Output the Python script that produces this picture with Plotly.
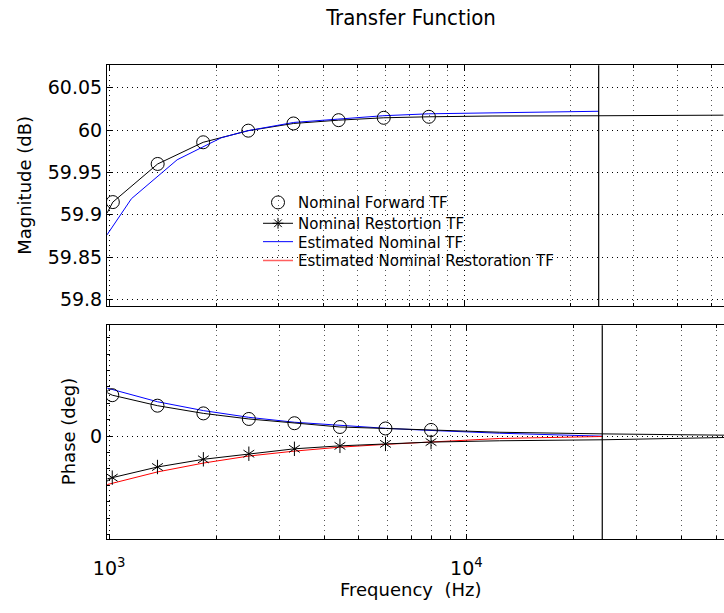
import plotly.graph_objects as go
import numpy as np

# ---------------- data ----------------
nyquist = 24000

# Magnitude subplot
mark_f = [1020, 1365, 1835, 2460, 3300, 4425, 5935, 7960]
mag_nom_marks = [59.915, 59.960, 59.9856, 59.9993, 60.0078, 60.0117, 60.0145, 60.0157]
mag_nom_f = [982, 1020, 1365, 1835, 2460, 3300, 4425, 5935, 7960, 12000, 24000, 54000]
mag_nom = [59.902, 59.915, 59.960, 59.9856, 59.9993, 60.0078, 60.0117, 60.0145, 60.0157,
           60.0166, 60.0169, 60.0176]
mag_est_f = [982, 1151, 1549, 2066, 2456, 3306, 4400, 5898, 7945, 12590, 24000]
mag_est = [59.8763, 59.919, 59.9649, 59.991, 59.9993, 60.009, 60.0129, 60.0169, 60.0192,
           60.0207, 60.0222]

# Phase subplot
ph_fwd_marks = [0.25, 0.186, 0.139, 0.105, 0.079, 0.056, 0.047, 0.038]
ph_res_marks = [-0.253, -0.188, -0.141, -0.107, -0.077, -0.059, -0.047, -0.036]
ph_line_f = [988, 1020, 1365, 1835, 2460, 3300, 4425, 5935, 7960, 12400, 24000, 53000]
ph_fwd_line = [0.265, 0.25, 0.186, 0.139, 0.105, 0.079, 0.056, 0.047, 0.038, 0.024, 0.014, 0.006]
ph_res_line = [-0.26, -0.253, -0.188, -0.141, -0.107, -0.077, -0.059, -0.047, -0.036, -0.028,
               -0.022, -0.008]
ph_est_f = [988, 1365, 1835, 2460, 3300, 4425, 5935, 7960, 12400, 24000]
ph_est_fwd = [0.293, 0.21, 0.156, 0.115, 0.085, 0.065, 0.048, 0.035, 0.018, 0.0]
ph_est_res = [-0.295, -0.218, -0.164, -0.121, -0.091, -0.067, -0.05, -0.036, -0.014, -0.002]

mag_ticks = [59.8, 59.85, 59.9, 59.95, 60.0, 60.05]
mag_ticktext = ["59.8", "59.85", "59.9", "59.95", "60", "60.05"]
ph_ticks = [0]
ph_ticktext = ["0"]
x_major = [1000, 10000]
x_major_text = ["10<sup>3</sup>", "10<sup>4</sup>"]
x_minor = [2000, 3000, 4000, 5000, 6000, 7000, 8000, 9000, 20000, 30000, 40000, 50000]

legend_names = ["Nominal Forward TF", "Nominal Restortion TF",
                "Estimated Nominal TF", "Estimated Nominal Restoration TF"]

# ---------------- figure ----------------
FONT = "DejaVu Sans"
TITLE_FONT = "DejaVu Sans Condensed, DejaVu Sans"
W, H = 724, 613
L, R = 107, 0
pw = W - L - R


def px_x(p):
    return (p - L) / pw


def px_y(p):
    return (H - p) / H


fig = go.Figure()
blk = dict(color="black", width=1)

# top subplot
fig.add_trace(go.Scatter(x=mag_nom_f, y=mag_nom, mode="lines", line=blk,
                         showlegend=False, xaxis="x", yaxis="y"))
fig.add_trace(go.Scatter(x=mag_est_f, y=mag_est, mode="lines",
                         line=dict(color="#0000ff", width=1),
                         showlegend=False, xaxis="x", yaxis="y"))
fig.add_trace(go.Scatter(x=mark_f, y=mag_nom_marks, mode="markers", name=legend_names[0],
                         marker=dict(symbol="circle-open", size=13, color="black",
                                     line=dict(width=1)),
                         showlegend=True, legend="legend", xaxis="x", yaxis="y"))

# bottom subplot
fig.add_trace(go.Scatter(x=ph_est_f, y=ph_est_fwd, mode="lines",
                         line=dict(color="#0000ff", width=1),
                         showlegend=False, xaxis="x2", yaxis="y2"))
fig.add_trace(go.Scatter(x=ph_est_f, y=ph_est_res, mode="lines",
                         line=dict(color="#ff0000", width=1),
                         showlegend=False, xaxis="x2", yaxis="y2"))
fig.add_trace(go.Scatter(x=ph_line_f, y=ph_fwd_line, mode="lines", line=blk,
                         showlegend=False, xaxis="x2", yaxis="y2"))
fig.add_trace(go.Scatter(x=ph_line_f, y=ph_res_line, mode="lines", line=blk,
                         showlegend=False, xaxis="x2", yaxis="y2"))
fig.add_trace(go.Scatter(x=mark_f, y=ph_fwd_marks, mode="markers",
                         marker=dict(symbol="circle-open", size=13, color="black",
                                     line=dict(width=1)),
                         showlegend=False, xaxis="x2", yaxis="y2"))
for sym in ["y-up-open", "y-down-open"]:
    fig.add_trace(go.Scatter(x=mark_f, y=ph_res_marks, mode="markers",
                             marker=dict(symbol=sym, size=9, color="black",
                                         line=dict(width=1, color="black")),
                             showlegend=False, xaxis="x2", yaxis="y2"))

# legend entries (each in its own legend so rows can be placed exactly)
fig.add_trace(go.Scatter(x=[None], y=[None], mode="lines+markers", name=legend_names[1],
                         line=blk, marker=dict(symbol="asterisk-open", size=9, color="black",
                                               line=dict(width=1, color="black")),
                         legend="legend2", xaxis="x", yaxis="y"))
fig.add_trace(go.Scatter(x=[None], y=[None], mode="lines", name=legend_names[2],
                         line=dict(color="#0000ff", width=1), legend="legend3",
                         xaxis="x", yaxis="y"))
fig.add_trace(go.Scatter(x=[None], y=[None], mode="lines", name=legend_names[3],
                         line=dict(color="#ff6060", width=1.5), legend="legend4",
                         xaxis="x", yaxis="y"))

grid_dash = "1px,4px"
xcommon = dict(type="log", showline=True, linecolor="black", linewidth=1, mirror="ticks",
               ticks="inside", ticklen=5, tickcolor="black",
               tickvals=x_major, ticktext=x_major_text,
               showgrid=True, gridcolor="black", griddash=grid_dash, gridwidth=1,
               minor=dict(tickvals=x_minor, ticks="inside", ticklen=3, tickcolor="black",
                          showgrid=True, gridcolor="#555", griddash=grid_dash, gridwidth=1),
               zeroline=False, tickfont=dict(family=FONT, size=19, color="black"))


def leg(ypx):
    return dict(x=px_x(258), y=px_y(ypx), xanchor="left", yanchor="middle",
                bgcolor="rgba(0,0,0,0)", borderwidth=0,
                font=dict(family=FONT, size=15, color="black"))


fig.update_layout(
    width=W, height=H,
    margin=dict(l=L, r=R, t=0, b=0),
    paper_bgcolor="white", plot_bgcolor="white",
    font=dict(family=FONT, color="black"),
    title=dict(text="Transfer Function", x=px_x(411), xref="paper", xanchor="center",
               y=px_y(17), yref="container", yanchor="middle",
               font=dict(family=TITLE_FONT, size=22, color="black")),
    xaxis=dict(**xcommon, domain=[0, 1], anchor="y",
               range=[np.log10(982), np.log10(54200)], showticklabels=False),
    xaxis2=dict(**xcommon, domain=[0, 1], anchor="y2",
                range=[np.log10(986), np.log10(52600)], showticklabels=True,
                ticklabelstandoff=12),
    yaxis=dict(domain=[px_y(308.3), px_y(65.7)], anchor="x",
               range=[59.792, 60.0765], tickvals=mag_ticks, ticktext=mag_ticktext,
               showline=True, linecolor="black", linewidth=1, mirror=False,
               ticks="inside", ticklen=5, tickcolor="black",
               showgrid=True, gridcolor="black", griddash=grid_dash, gridwidth=1,
               zeroline=False, tickfont=dict(family=FONT, size=19, color="black")),
    yaxis2=dict(domain=[px_y(542.7), px_y(327.3)], anchor="x2",
                range=[-0.628, 0.677], tickvals=ph_ticks, ticktext=ph_ticktext,
                showline=True, linecolor="black", linewidth=1, mirror=False,
                ticks="inside", ticklen=5, tickcolor="black",
                minor=dict(dtick=0.1, ticks="inside", ticklen=3, tickcolor="black",
                           showgrid=False),
                showgrid=True, gridcolor="black", griddash=grid_dash, gridwidth=1,
                zeroline=False, tickfont=dict(family=FONT, size=19, color="black")),
    legend=leg(204), legend2=leg(225), legend3=leg(243.5), legend4=leg(262.5),
    showlegend=True,
)

# Nyquist lines
for ya in ["y", "y2"]:
    xa = "x" if ya == "y" else "x2"
    fig.add_shape(type="line", xref=xa, yref=f"{ya} domain", x0=nyquist, x1=nyquist,
                  y0=0, y1=1, line=dict(color="black", width=1.2))

# axis titles
fig.add_annotation(text="Magnitude (dB)", xref="paper", yref="paper",
                   x=px_x(25), y=px_y(187), textangle=-90, showarrow=False,
                   xanchor="center", yanchor="middle",
                   font=dict(family=FONT, size=18, color="black"))
fig.add_annotation(text="Phase (deg)", xref="paper", yref="paper",
                   x=px_x(68), y=px_y(435), textangle=-90, showarrow=False,
                   xanchor="center", yanchor="middle",
                   font=dict(family=FONT, size=18, color="black"))
fig.add_annotation(text="Frequency  (Hz)", xref="paper", yref="paper",
                   x=px_x(410), y=px_y(593), showarrow=False,
                   xanchor="center", yanchor="middle",
                   font=dict(family=FONT, size=18, color="black"))

fig.write_html("out.html")
